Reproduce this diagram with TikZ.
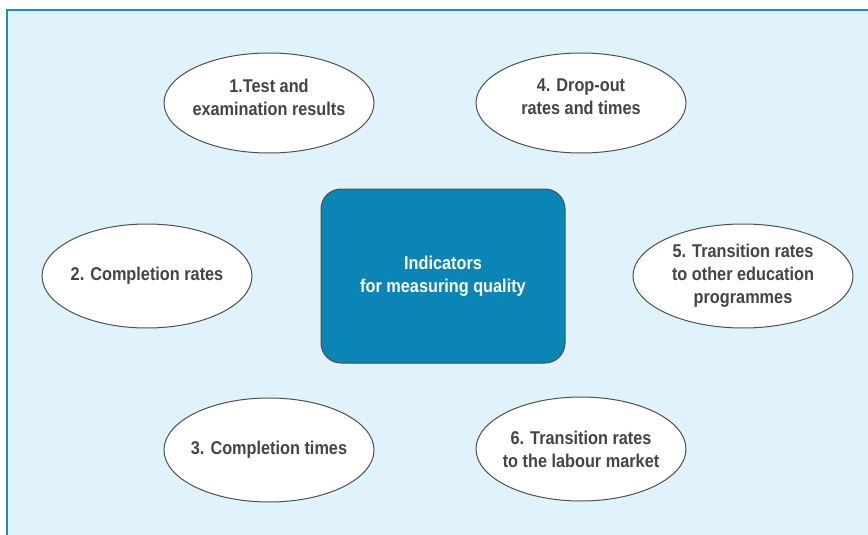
\documentclass[tikz,border=0pt]{standalone}
\usepackage{fontspec}
\setmainfont{Liberation Sans}[FakeStretch=0.88]
\usetikzlibrary{shapes.geometric}

\definecolor{paleblue}{HTML}{E0F3FD}
\definecolor{frameblue}{HTML}{1C8DC0}
\definecolor{coreblue}{HTML}{0B85B5}
\definecolor{textgrey}{HTML}{444444}
\definecolor{linegrey}{HTML}{4F4F4F}

\begin{document}
\begin{tikzpicture}[x=1pt, y=-1pt]
        \tikzstyle{indicator}=[ellipse,draw=linegrey,line width=1pt,fill=white,minimum width=210pt,minimum height=100pt,inner sep=-20pt,align=center,text=textgrey,font=\fontsize{18.5}{23}\selectfont\bfseries]
        \tikzstyle{core}=[rectangle,rounded corners=20pt,draw=linegrey,line width=1pt,fill=coreblue,minimum width=244pt,minimum height=174pt,align=center,text=white,font=\fontsize{18.5}{23}\selectfont\bfseries]

        \useasboundingbox (0,0) rectangle (868,535);
        \fill[white] (0,0) rectangle (868,535);
        \fill[paleblue] (7,10) rectangle (868,535);
        \draw[frameblue,line width=2.5pt] (868,10) -- (7,10) -- (7,535);

        \node[core] (Q) at (443,276) {Indicators\\for measuring quality};

        \node[indicator,text depth=12pt] (I_1) at (269,103) {1.Test and\\examination results};
        \node[indicator,minimum height=104pt] (I_2) at (147,276) {2. Completion rates};
        \node[indicator,minimum height=104pt] (I_3) at (269,450) {3. Completion times};
        \node[indicator,text depth=12pt] (I_4) at (581,103) {4. Drop-out\\rates and times};
        \node[indicator,minimum width=220pt,minimum height=104pt] (I_5) at (743,276) {5. Transition rates\\to other education\\programmes};
        \node[indicator,minimum height=104pt] (I_6) at (581,449) {6. Transition rates\\to the labour market};
    \end{tikzpicture}
\end{document}
